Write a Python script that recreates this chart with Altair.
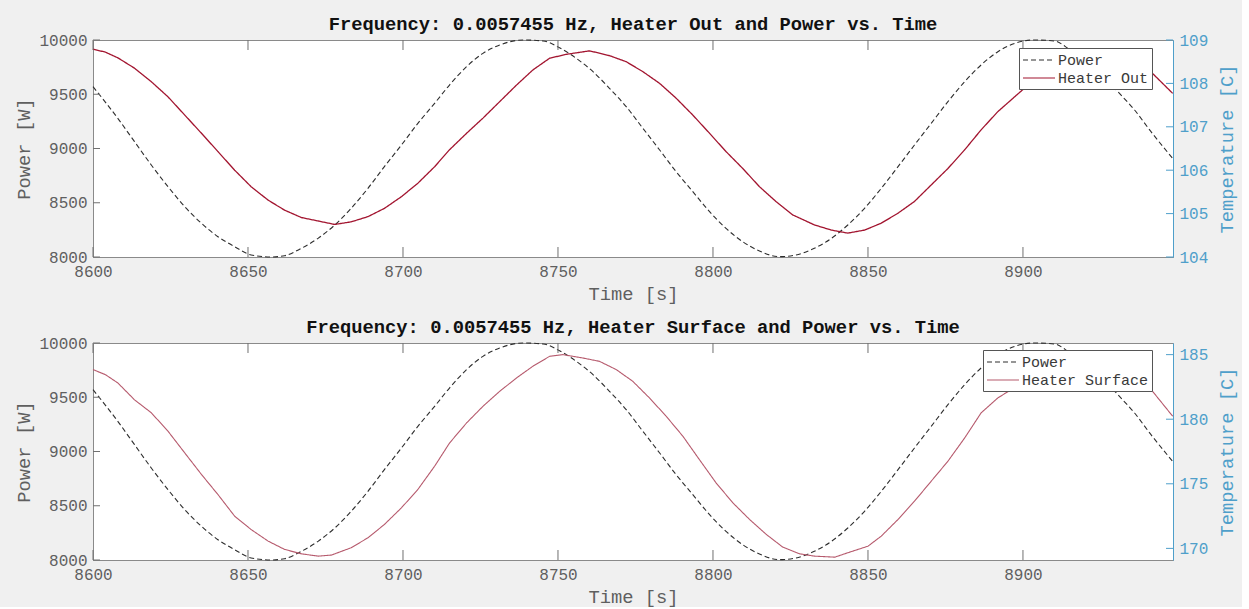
import altair as alt
import pandas as pd

# ---------------- data ----------------
power_t = [8600, 8608, 8613.4, 8618.8, 8624.2, 8629.6, 8635, 8640.3, 8645.7, 8651,
           8657.5, 8661.8, 8667.2, 8672.6, 8678, 8683.3, 8688.7, 8694, 8699.5, 8704.8,
           8710.2, 8715, 8720.5, 8725.8, 8731.2, 8738.7, 8745.2, 8750.5, 8755.9, 8761.3,
           8766.6, 8772, 8777.4, 8782.8, 8788.1, 8793.5, 8798.9, 8804.2, 8809.6, 8815,
           8821.4, 8826.8, 8832.7, 8838.2, 8843.5, 8848.9, 8854.3, 8859.7, 8865, 8870.4,
           8875.8, 8881.2, 8886.5, 8891.9, 8897.3, 8903.7, 8910.2, 8915, 8920, 8925,
           8930.6, 8936, 8941.3, 8948.3]
power_w = [9570, 9278, 9063, 8848, 8648, 8464, 8310, 8187, 8095, 8019,
           8000, 8012, 8080, 8172, 8295, 8449, 8633, 8833, 9032, 9232,
           9416, 9585, 9754, 9877, 9954, 10000, 9991, 9929, 9831, 9708,
           9555, 9386, 9186, 8986, 8787, 8602, 8418, 8264, 8141, 8055,
           8003, 8019, 8080, 8172, 8295, 8449, 8633, 8833, 9032, 9232,
           9432, 9616, 9770, 9892, 9969, 10000, 9991, 9913, 9818, 9693,
           9524, 9355, 9155, 8909]

out_t = [8600, 8604, 8608, 8613.4, 8618.8, 8624.2, 8629.6, 8635, 8640.3, 8645.7,
         8651, 8656.5, 8661.8, 8667.2, 8672.6, 8678, 8683.3, 8688.7, 8694, 8699.5,
         8704.8, 8710.2, 8715, 8720.5, 8725.8, 8731.2, 8736.6, 8741.9, 8747.3, 8752.7,
         8760.2, 8766.6, 8772, 8777.4, 8782.8, 8788.1, 8793.5, 8798.9, 8804.2, 8809.6,
         8815, 8820.3, 8825.7, 8832.7, 8838.2, 8843.5, 8848.9, 8854.3, 8859.7, 8865,
         8870.4, 8875.8, 8881.2, 8886.5, 8891.9, 8897.3, 8901.6, 8908, 8914, 8920,
         8926, 8932, 8937, 8941.8, 8948.3]
out_c = [108.79, 108.72, 108.59, 108.35, 108.04, 107.69, 107.27, 106.85, 106.43, 106.00,
         105.62, 105.31, 105.08, 104.91, 104.83, 104.75, 104.81, 104.93, 105.12, 105.39,
         105.70, 106.08, 106.47, 106.85, 107.20, 107.58, 107.96, 108.31, 108.58, 108.67,
         108.75, 108.64, 108.50, 108.27, 108.00, 107.66, 107.27, 106.85, 106.43, 106.04,
         105.62, 105.28, 104.97, 104.74, 104.62, 104.55, 104.62, 104.78, 105.01, 105.28,
         105.66, 106.04, 106.47, 106.93, 107.35, 107.69, 107.96, 108.25, 108.45, 108.55,
         108.55, 108.48, 108.38, 108.23, 107.77]

surf_t = [8600, 8604, 8608, 8613.4, 8618.8, 8624.2, 8629.6, 8635, 8640.3, 8645.7,
          8651, 8656.5, 8661.8, 8667.2, 8672.6, 8676.9, 8683.3, 8688.7, 8694, 8699.5,
          8704.8, 8710.2, 8715, 8720.5, 8725.8, 8731.2, 8736.6, 8741.9, 8747.3, 8751.6,
          8758, 8763.4, 8768.8, 8774.1, 8779.5, 8784.9, 8790.3, 8795.6, 8801, 8806.4,
          8811.8, 8817.2, 8822.5, 8827.9, 8832.7, 8839.3, 8843.5, 8850, 8854.3, 8859.7,
          8865, 8870.4, 8875.8, 8881.2, 8886.5, 8891.9, 8896.2, 8902, 8908, 8914,
          8920, 8926, 8932, 8937, 8941.8, 8948.3]
surf_c = [183.84, 183.45, 182.81, 181.50, 180.50, 179.07, 177.39, 175.72, 174.17, 172.49,
          171.46, 170.56, 169.92, 169.58, 169.40, 169.48, 170.05, 170.82, 171.85, 173.14,
          174.56, 176.36, 178.15, 179.71, 181.00, 182.16, 183.19, 184.10, 184.87, 185.00,
          184.74, 184.48, 183.84, 182.94, 181.65, 180.23, 178.68, 176.88, 175.07, 173.53,
          172.24, 171.08, 170.10, 169.58, 169.40, 169.32, 169.66, 170.17, 170.95, 172.24,
          173.65, 175.20, 176.75, 178.55, 180.49, 181.65, 182.29, 183.30, 184.30, 184.90,
          184.85, 184.55, 183.95, 183.15, 182.16, 180.23]

x_ticks = [8600, 8650, 8700, 8750, 8800, 8850, 8900]
power_ticks = [8000, 8500, 9000, 9500, 10000]
out_ticks = [104, 105, 106, 107, 108, 109]
surf_ticks = [170, 175, 180, 185]

# ---------------- styling ----------------
FONT = "Liberation Mono"
W, H = 1080, 217
X_DOMAIN = [8600, 8948.4]
GRAY = "#5f5f5f"
BLUE = "#4f9fca"
DARK = "#2e2e2e"


def panel(title, temp_name, temp_t, temp_c, temp_domain, temp_ticks, temp_color,
          temp_width, legend_x, legend_y):
    pdf = pd.DataFrame({"t": power_t, "v": power_w, "series": "Power"})
    tdf = pd.DataFrame({"t": temp_t, "v": temp_c, "series": temp_name})

    xs = alt.Scale(domain=X_DOMAIN, nice=False, zero=False)
    x_axis = alt.Axis(values=x_ticks, format="d", title="Time [s]",
                      labelFlush=False, labelOverlap=False)
    x_enc = alt.X("t:Q", scale=xs, axis=x_axis)
    dom = ["Power", temp_name]
    leg = alt.Legend(orient="none", legendX=legend_x, legendY=legend_y, title=None,
                     fillColor="white", strokeColor="#555555", padding=3,
                     labelFont=FONT, labelFontSize=15, labelColor="#3a3a3a",
                     symbolType="M-1,0H3", symbolSize=256, symbolStrokeWidth=1.2,
                     labelOffset=18, rowPadding=1, cornerRadius=0)
    color = alt.Color("series:N", scale=alt.Scale(domain=dom, range=[DARK, temp_color]),
                      legend=leg)
    dash = alt.StrokeDash("series:N", scale=alt.Scale(domain=dom, range=[[5, 3], [1, 0]]),
                          legend=leg)

    power_line = alt.Chart(pdf).mark_line(strokeWidth=1.1, interpolate="monotone").encode(
        x=x_enc,
        y=alt.Y("v:Q", scale=alt.Scale(domain=[8000, 10000], nice=False, zero=False),
                axis=alt.Axis(orient="left", values=power_ticks, format="d", title="Power [W]",
                              labelFlush=False, labelOverlap=False)),
        color=color, strokeDash=dash, order=alt.Order("t:Q"))

    temp_line = alt.Chart(tdf).mark_line(strokeWidth=temp_width).encode(
        x=x_enc,
        y=alt.Y("v:Q", scale=alt.Scale(domain=temp_domain, nice=False, zero=False),
                axis=alt.Axis(orient="right", values=temp_ticks, format="d",
                              title="Temperature [C]",
                              labelColor=BLUE, titleColor=BLUE, domainColor=BLUE,
                              titleAngle=270, titleBaseline="top", titlePadding=10,
                              labelFlush=False, labelOverlap=False)),
        color=color, strokeDash=dash, order=alt.Order("t:Q"))

    xt = pd.DataFrame({"t": x_ticks})
    x_tick_bottom = alt.Chart(xt).mark_rule(color="#707070", strokeWidth=1).encode(
        x=x_enc, y=alt.value(H - 10), y2=alt.value(H))
    x_tick_top = alt.Chart(xt).mark_rule(color="#707070", strokeWidth=1).encode(
        x=x_enc, y=alt.value(0), y2=alt.value(10))

    left_ticks = alt.Chart(pd.DataFrame({"yt": power_ticks})).mark_rule(
        color="#707070", strokeWidth=1).encode(
        y=alt.Y("yt:Q", scale=alt.Scale(domain=[8000, 10000], nice=False, zero=False), axis=None),
        x=alt.value(0), x2=alt.value(7))
    right_ticks = alt.Chart(pd.DataFrame({"yt": temp_ticks})).mark_rule(
        color=BLUE, strokeWidth=1).encode(
        y=alt.Y("yt:Q", scale=alt.Scale(domain=temp_domain, nice=False, zero=False), axis=None),
        x=alt.value(W - 7), x2=alt.value(W))

    return alt.layer(power_line, temp_line, x_tick_bottom, x_tick_top,
                     left_ticks, right_ticks).resolve_scale(y="independent").properties(
        width=W, height=H,
        title=alt.TitleParams(title, font=FONT, fontSize=18.8, fontWeight="bold",
                              color="#111111", offset=-2))


top = panel("Frequency: 0.0057455 Hz, Heater Out and Power vs. Time", "Heater Out",
            out_t, out_c, [104, 109], out_ticks, "#a2142f", 1.3, 926, 8)
bottom = panel("Frequency: 0.0057455 Hz, Heater Surface and Power vs. Time", "Heater Surface",
               surf_t, surf_c, [169.1, 185.9], surf_ticks, "#b65a6d", 1.1, 890, 7)

chart = alt.vconcat(top, bottom, spacing=86, bounds="flush").resolve_scale(
    color="independent", strokeDash="independent").resolve_legend(
    color="independent", strokeDash="independent").properties(
    padding={"left": 14, "top": 14, "right": 4, "bottom": 0},
    background="#f0f0f0").configure_view(
    stroke="#8a8a8a", strokeWidth=1, fill="white").configure_axis(
    labelFont=FONT, labelFontSize=16, labelColor=GRAY, titleFont=FONT,
    titleFontSize=18.8, titleFontWeight="normal", titleColor=GRAY, ticks=False,
    domainColor="#8a8a8a", grid=False, labelPadding=6, titlePadding=5)

chart.save("out.html", embed_options={"renderer": "svg", "actions": False})
